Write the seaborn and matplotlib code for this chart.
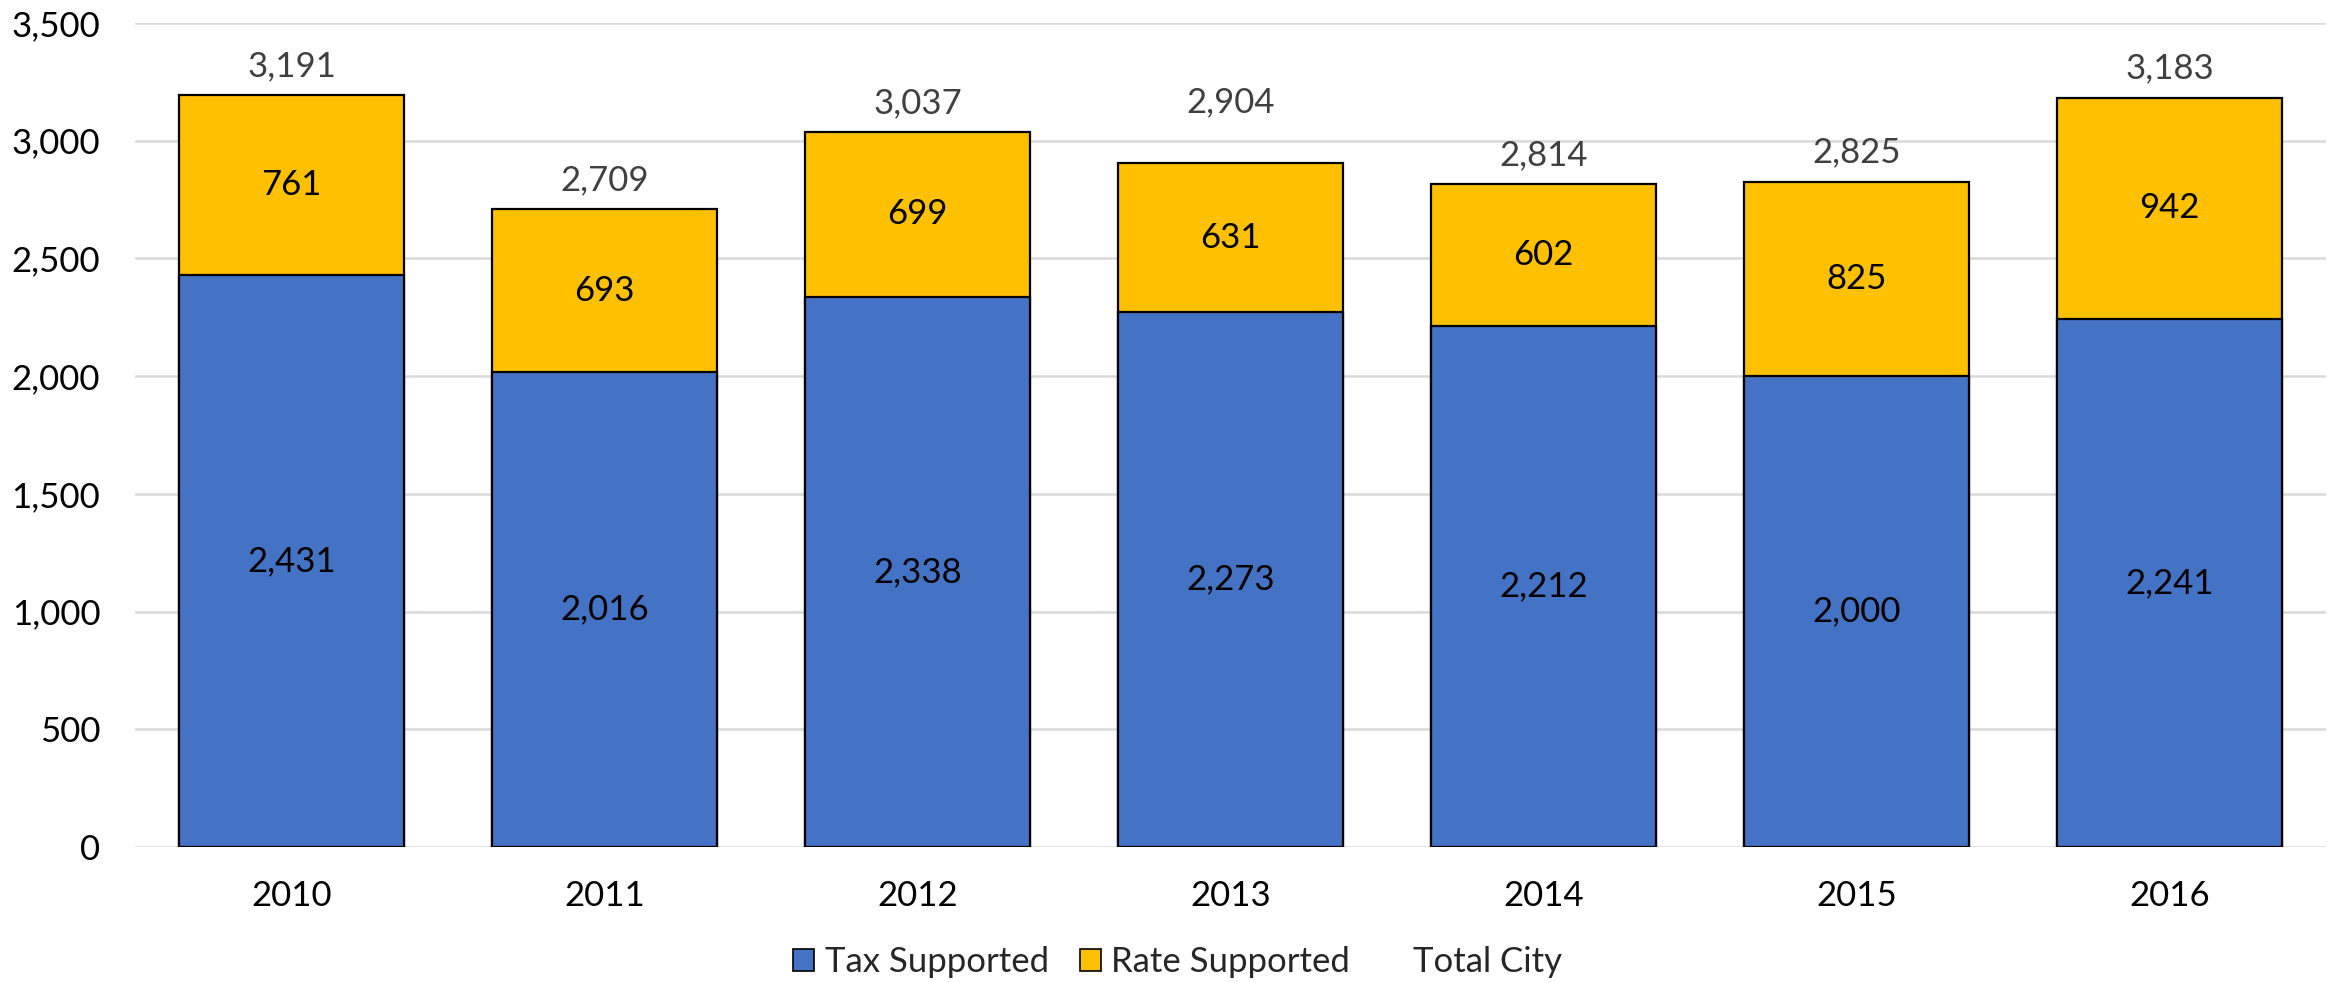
import matplotlib
matplotlib.use("Agg")
import matplotlib.pyplot as plt
from matplotlib.patches import Patch
import seaborn as sns
import pandas as pd

years = ["2010", "2011", "2012", "2013", "2014", "2015", "2016"]
tax_supported = [2431, 2016, 2338, 2273, 2212, 2000, 2241]
rate_supported = [761, 693, 699, 631, 602, 825, 942]
total_city = [3191, 2709, 3037, 2904, 2814, 2825, 3183]

BLUE = "#4472C4"
GOLD = "#FFC000"
GRID = "#D9D9D9"
FS = 25

sns.set_theme(style="white")
plt.rcParams["font.family"] = ["Lato", "DejaVu Sans"]

df = pd.DataFrame({
    "year": years,
    "tax": tax_supported,
    "rate": rate_supported,
    "total": total_city,
})
df["stack_top"] = df["tax"] + df["rate"]

fig = plt.figure(figsize=(23.41, 9.82), dpi=100)
ax = fig.add_axes([0.0577, 0.1375, 0.9359, 0.8391])

bar_kw = dict(width=0.72, edgecolor="black", linewidth=1.6, saturation=1, zorder=3)
# Rate-supported segment is drawn as the full stack, then covered by the tax part
sns.barplot(data=df, x="year", y="stack_top", color=GOLD, ax=ax, **bar_kw)
sns.barplot(data=df, x="year", y="tax", color=BLUE, ax=ax, **bar_kw)

ax.set_ylim(0, 3500)
ax.set_xlim(-0.5, len(years) - 0.5)
ax.set_yticks(range(0, 3501, 500))
ax.set_yticklabels([f"{v:,}" for v in range(0, 3501, 500)])
ax.yaxis.grid(True, color=GRID, linewidth=1.8, zorder=0)
ax.xaxis.grid(False)
sns.despine(ax=ax, left=True, bottom=True, top=True, right=True)
ax.tick_params(axis="both", length=0, labelsize=FS, colors="black")
ax.tick_params(axis="y", pad=25)
ax.tick_params(axis="x", pad=24)
ax.set_xlabel("")
ax.set_ylabel("")

# the 2013 total label sits higher than the others
total_label_lift = {3: 44}

for i in range(len(years)):
    t = df["tax"][i]
    top = df["stack_top"][i]
    ax.text(i, t / 2, f"{t:,}", ha="center", va="center", fontsize=FS, color="black", zorder=5)
    ax.text(i, (t + top) / 2, f"{df['rate'][i]:,}", ha="center", va="center",
            fontsize=FS, color="black", zorder=5)
    ax.annotate(f"{df['total'][i]:,}", xy=(i, df["total"][i]),
                xytext=(0, total_label_lift.get(i, 21)),
                textcoords="offset points", ha="center", va="center",
                fontsize=FS, color="#404040", zorder=5)

handles = [
    Patch(facecolor=BLUE, edgecolor="black", linewidth=1.2),
    Patch(facecolor=GOLD, edgecolor="black", linewidth=1.2),
    Patch(facecolor="none", edgecolor="none"),
]
labels = ["Tax Supported", "Rate Supported", "Total City"]
fig.legend(handles, labels, loc="center", bbox_to_anchor=(0.503, 0.02), ncol=3,
           frameon=False, fontsize=FS, handlelength=0.6, handleheight=0.6,
           handletextpad=0.3, columnspacing=0.9)

fig.savefig("out.png", dpi=100)
